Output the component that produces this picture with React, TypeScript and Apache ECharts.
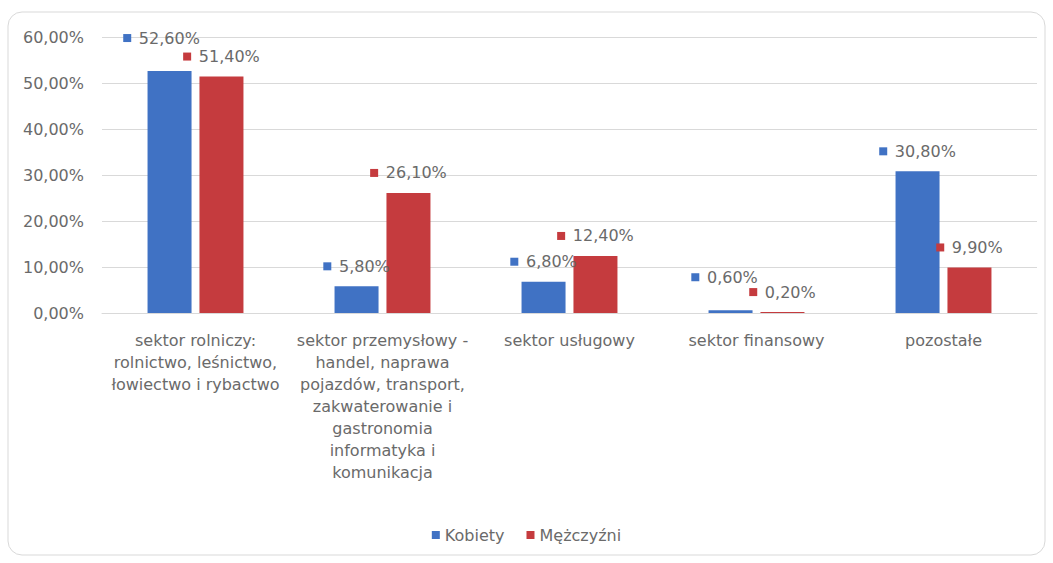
import React, { useEffect, useRef } from "react";
import * as echarts from "echarts";

const categories = [
  "sektor rolniczy:\nrolnictwo, leśnictwo,\nłowiectwo i rybactwo",
  "sektor przemysłowy -\nhandel, naprawa\npojazdów, transport,\nzakwaterowanie i\ngastronomia\ninformatyka i\nkomunikacja",
  "sektor usługowy",
  "sektor finansowy",
  "pozostałe",
];
const kobiety = [52.6, 5.8, 6.8, 0.6, 30.8];
const mezczyzni = [51.4, 26.1, 12.4, 0.2, 9.9];
const seriesNames = ["Kobiety", "Mężczyźni"];
const yMin = 0;
const yMax = 60;
const yInterval = 10;

const BLUE = "#4072C4";
const RED = "#C53B3E";
const TEXT = "#6a6a6a";
const FONT = "DejaVu Sans";

// label nudges (pixels) for labels that the original places off their default spot
const kobietyLabelOffsets: Record<number, number[]> = { 0: [-8, -13], 3: [-6, -13] };
const mezczyzniLabelOffsets: Record<number, number[]> = {};

const fmt = (v: number) => v.toFixed(2).replace(".", ",") + "%";

function labelFor(color: string) {
  return {
    show: true,
    position: "top",
    distance: 12,
    formatter: (p: any) => `{sq|}  {v|${fmt(p.value)}}`,
    rich: {
      sq: { width: 8, height: 8, backgroundColor: color },
      v: { fontSize: 16, color: TEXT, fontFamily: FONT },
    },
  };
}

function toData(vals: number[], offsets: Record<number, number[]>) {
  return vals.map((v, i) =>
    offsets[i] ? { value: v, label: { offset: offsets[i] } } : v
  );
}

export default function App() {
  const ref = useRef<HTMLDivElement>(null);
  useEffect(() => {
    if (!ref.current) return;
    const chart = echarts.init(ref.current, null, { renderer: "svg" });
    chart.setOption({
      animation: false,
      backgroundColor: "#ffffff",
      textStyle: { fontFamily: FONT },
      graphic: [
        {
          type: "rect",
          shape: { x: 8, y: 12, width: 1037, height: 543, r: 14 },
          style: { fill: "none", stroke: "#d9d9d9", lineWidth: 1 },
          silent: true,
        },
      ],
      grid: { left: 102, right: 16, top: 37, bottom: 250 },
      legend: {
        data: seriesNames,
        bottom: 15,
        left: "center",
        icon: "rect",
        itemWidth: 8,
        itemHeight: 8,
        itemGap: 22,
        textStyle: { color: TEXT, fontSize: 16, fontFamily: FONT },
      },
      xAxis: {
        type: "category",
        data: categories,
        axisTick: { show: false },
        axisLine: { lineStyle: { color: "#d9d9d9" } },
        axisLabel: {
          interval: 0,
          color: TEXT,
          fontSize: 16,
          lineHeight: 22,
          margin: 16,
          fontFamily: FONT,
        },
      },
      yAxis: {
        type: "value",
        min: yMin,
        max: yMax,
        interval: yInterval,
        axisLabel: {
          color: TEXT,
          fontSize: 16,
          margin: 18,
          formatter: (v: number) => fmt(v),
          fontFamily: FONT,
        },
        splitLine: { lineStyle: { color: "#d9d9d9" } },
        axisLine: { show: false },
        axisTick: { show: false },
      },
      series: [
        {
          name: seriesNames[0],
          type: "bar",
          data: toData(kobiety, kobietyLabelOffsets),
          barWidth: 44,
          barGap: "18%",
          itemStyle: { color: BLUE },
          label: labelFor(BLUE),
        },
        {
          name: seriesNames[1],
          type: "bar",
          data: toData(mezczyzni, mezczyzniLabelOffsets),
          barWidth: 44,
          itemStyle: { color: RED },
          label: labelFor(RED),
        },
      ],
    });
    return () => chart.dispose();
  }, []);
  return (
    <div
      ref={ref}
      style={{ position: "fixed", left: 0, top: 0, width: 1053, height: 563 }}
    />
  );
}
